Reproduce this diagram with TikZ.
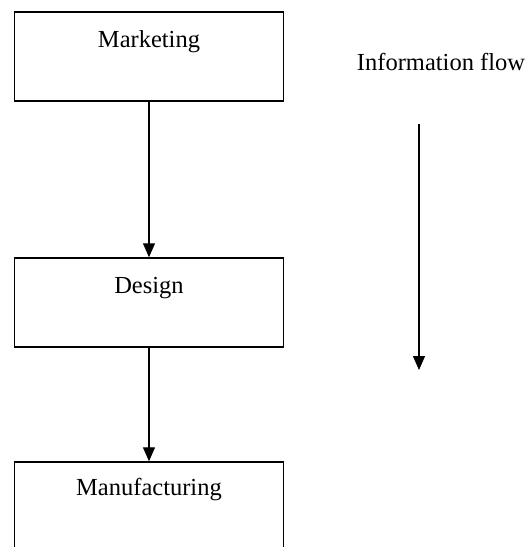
\documentclass[tikz,border=0pt]{standalone}
\usepackage{fontspec}
\setmainfont{Liberation Serif}
\usetikzlibrary{arrows.meta}

\begin{document}
\begin{tikzpicture}[x=1pt,y=-1pt,>={Triangle[width=12pt,length=14pt]},
  dept/.style={draw,line width=1.5pt,inner sep=0pt,minimum width=269pt,
    text height=35pt,text depth=54pt,anchor=base,font=\fontsize{24.5}{28}\selectfont},
  flow/.style={->,line width=1.3pt}]

\useasboundingbox (0,0) rectangle (526,547);
\clip (0,0) rectangle (526,547);

% The departments
\node[dept] (marketing) at (149,47) {Marketing};
\node[dept] (design) at (149,293) {Design};
\node[dept,text height=33pt,text depth=80pt] (manufacturing) at (149,495) {Manufacturing};

% The links
\draw[flow] (marketing.south) -- (design.north);
\draw[flow] (design.south) -- (manufacturing.north);

% The legend
\node[anchor=base,font=\fontsize{24.5}{28}\selectfont] (info) at (441,70) {Information flow};
\coordinate (flowtop) at (419,124);
\coordinate (flowend) at (419,370);
\draw[flow] (flowtop) -- (flowend);

\end{tikzpicture}
\end{document}
